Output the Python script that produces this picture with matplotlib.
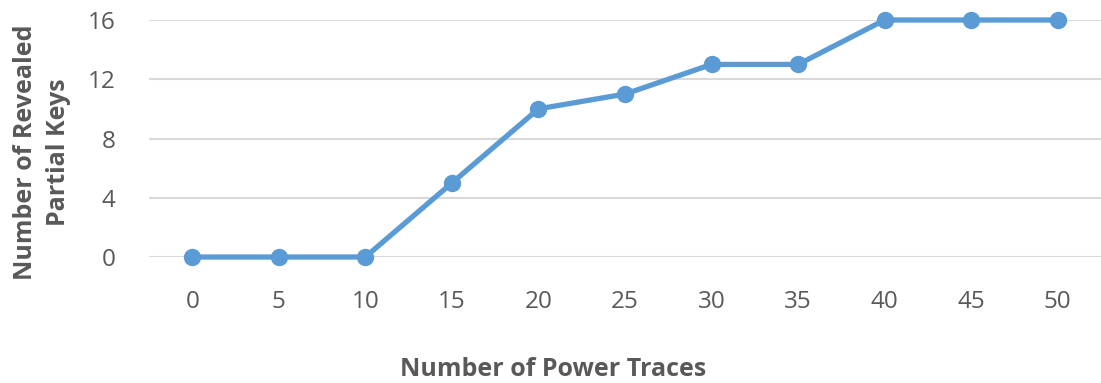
import matplotlib.pyplot as plt

plt.rcParams['font.family'] = ['Open Sans', 'DejaVu Sans']

traces = [0, 5, 10, 15, 20, 25, 30, 35, 40, 45, 50]
revealed = [0, 0, 0, 5, 10, 11, 13, 13, 16, 16, 16]
y_ticks = [0, 4, 8, 12, 16]

grey = '#595959'
blue = '#5B9BD5'

fig = plt.figure(figsize=(11.01, 3.83), dpi=100)
ax = fig.add_axes([149 / 1101, 1 - 257 / 383, (1101 - 149) / 1101, (257 - 20) / 383])

pos = list(range(len(traces)))
ax.plot(pos, revealed, color=blue, lw=3.8, marker='o', ms=11.5, zorder=3,
        solid_capstyle='round', clip_on=False)

ax.set_xlim(-0.5, len(traces) - 0.5)
ax.set_ylim(0, 16)
ax.set_yticks(y_ticks)
ax.set_xticks(pos)
ax.set_xticklabels([str(t) for t in traces])
ax.grid(axis='y', color='#d9d9d9', lw=1.5)
ax.set_axisbelow(True)
for s in ax.spines.values():
    s.set_visible(False)
ax.tick_params(length=0, labelsize=17.5, labelcolor=grey)
ax.tick_params(axis='x', pad=24)
ax.tick_params(axis='y', pad=24)

fig.text(553 / 1101, 1 - 370 / 383, 'Number of Power Traces', ha='center', va='center',
         fontsize=18, fontweight='bold', color=grey)
fig.text(42 / 1101, 1 - 152 / 383, 'Number of Revealed\nPartial Keys', ha='center', va='center',
         rotation=90, fontsize=18, fontweight='bold', color=grey, linespacing=1.4)

fig.savefig('out.png', dpi=100)
